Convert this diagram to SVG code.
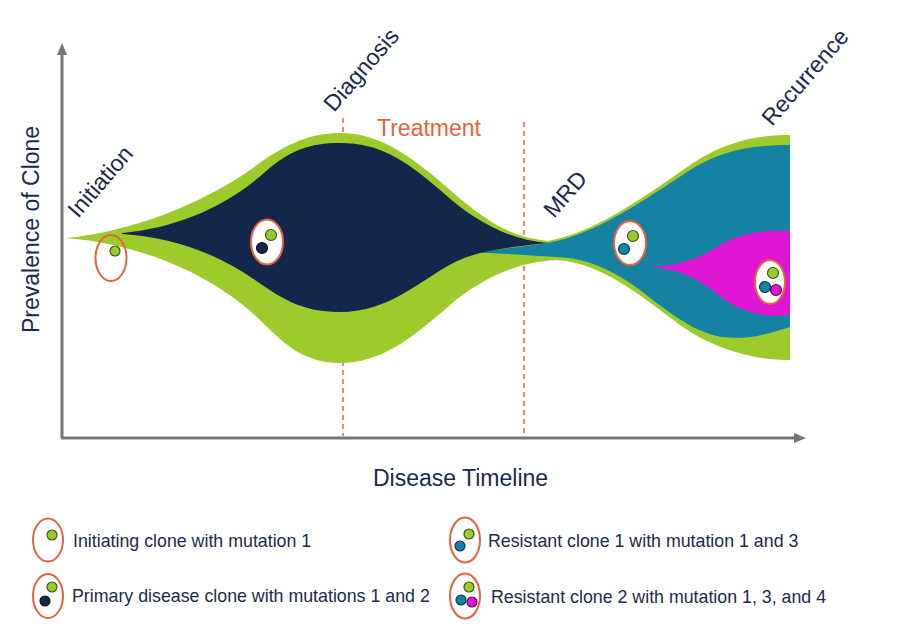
<svg xmlns="http://www.w3.org/2000/svg" width="908" height="640" viewBox="0 0 908 640">
<style>
text{font-family:"Liberation Sans",Arial,sans-serif;fill:#1b2a4c}
.lbl{font-size:23px}
.leg{font-size:17.8px}
.ring{fill:#fff;stroke:#e8623d;stroke-width:2}
.ringo{fill:none;stroke:#e8623d;stroke-width:2}
.dg{fill:#9cc92b;stroke:#3a5a14;stroke-width:1.2}
.dn{fill:#13274a;stroke:#0a1830;stroke-width:1.2}
.dt{fill:#1582a3;stroke:#0c3c52;stroke-width:1.2}
.dm{fill:#e016d4;stroke:#5a0a56;stroke-width:1.2}
.dash{stroke:#e8704c;stroke-width:1.6;stroke-dasharray:5 4;fill:none}
.axis{stroke:#767676;stroke-width:3;fill:none}
</style>
<rect width="908" height="640" fill="#fff"/>

<g id="markers">
<line class="dash" x1="343" y1="118" x2="343" y2="436"/>
<line class="dash" x1="524" y1="122" x2="524" y2="436"/>
</g>

<g id="streams">
<path id="green" fill="#9ccb2b" d="M66,238 C130,232 200,205 250,170 C280,148 305,133 340,133 C375,133 405,150 450,190 C490,225 515,238 548,241 C595,232 640,200 690,165 C720,145 750,135 790,135 L790,360 C755,360 715,350 680,325 C640,295 600,262 556,260 C515,262 480,280 450,305 C410,340 380,363 340,363 C305,363 285,345 262,322 C220,280 150,245 66,238 Z"/>
<path id="teal" fill="#1582a3" d="M470,252 C500,250 525,246 548,243 C595,234 640,203 690,170 C722,150 752,145 790,145 L790,327 C768,334 748,340 722,337 C695,333 668,312 640,290 C610,268 585,258 556,257 C525,255 495,253 470,252 Z"/>
<path id="navy" fill="#13274a" d="M122,233 C175,228 225,208 265,172 C290,150 310,143 340,143 C380,143 405,160 440,190 C475,222 510,240 548,243 C510,247 480,250 455,262 C420,280 390,312 340,312 C300,312 280,297 255,280 C215,252 170,237 122,234 Z"/>
<path id="magenta" fill="#e016d4" d="M650,267 C680,266 700,258 722,244 C742,233 762,230 790,231 L790,315 C768,318 748,314 728,302 C705,285 690,270 650,267 Z"/>
</g>

<g id="connectors">
<line class="axis" x1="62" y1="438" x2="62" y2="52"/>
<polygon points="62,43 57,55 67,55" fill="#767676"/>
<line class="axis" x1="61" y1="438" x2="796" y2="438"/>
<polygon points="806,438 794,433 794,443" fill="#767676"/>
</g>

<g id="clone-initiating">
<ellipse class="ringo" cx="111" cy="258" rx="15.5" ry="23"/>
<circle class="dg" cx="115" cy="251" r="5"/>
</g>
<g id="clone-primary">
<ellipse class="ring" cx="267" cy="242" rx="16" ry="22.5"/>
<circle class="dg" cx="271" cy="235" r="5.5"/>
<circle class="dn" cx="262" cy="248" r="5.5"/>
</g>
<g id="clone-resistant1">
<ellipse class="ring" cx="630" cy="243" rx="16" ry="22"/>
<circle class="dg" cx="633" cy="236" r="5.5"/>
<circle class="dt" cx="624" cy="249" r="5.5"/>
</g>
<g id="clone-resistant2">
<ellipse class="ring" cx="770" cy="282" rx="15" ry="22"/>
<circle class="dg" cx="773" cy="273" r="5.5"/>
<circle class="dt" cx="765" cy="287" r="5.5"/>
<circle class="dm" cx="776" cy="290" r="5.5"/>
</g>

<g id="labels">
<text class="lbl" transform="translate(78,219) rotate(-49)">Initiation</text>
<text class="lbl" transform="translate(334,113) rotate(-49)">Diagnosis</text>
<text class="lbl" transform="translate(554,219) rotate(-49)">MRD</text>
<text class="lbl" transform="translate(772,127) rotate(-49)">Recurrence</text>
<text class="lbl" x="377" y="136" style="fill:#e8623d">Treatment</text>
<text class="lbl" x="373" y="486">Disease Timeline</text>
<text class="lbl" transform="translate(39,333) rotate(-90)">Prevalence of Clone</text>
</g>

<g id="legend-initiating">
<ellipse class="ringo" cx="48" cy="540" rx="15" ry="21.5"/>
<circle class="dg" cx="52" cy="535" r="5"/>
<text class="leg" x="73" y="547">Initiating clone with mutation 1</text>
</g>
<g id="legend-primary">
<ellipse class="ringo" cx="48" cy="596" rx="15" ry="22"/>
<circle class="dg" cx="52" cy="587" r="5"/>
<circle class="dn" cx="45" cy="601" r="5"/>
<text class="leg" x="72" y="602">Primary disease clone with mutations 1 and 2</text>
</g>
<g id="legend-resistant1">
<ellipse class="ringo" cx="465" cy="540" rx="15" ry="22.5"/>
<circle class="dg" cx="469" cy="534" r="5"/>
<circle class="dt" cx="460" cy="546" r="5"/>
<text class="leg" x="488" y="547">Resistant clone 1 with mutation 1 and 3</text>
</g>
<g id="legend-resistant2">
<ellipse class="ringo" cx="465" cy="596" rx="15" ry="22.5"/>
<circle class="dg" cx="469" cy="587" r="5"/>
<circle class="dt" cx="461" cy="600" r="5"/>
<circle class="dm" cx="472" cy="602" r="5"/>
<text class="leg" x="491" y="603">Resistant clone 2 with mutation 1, 3, and 4</text>
</g>
</svg>
